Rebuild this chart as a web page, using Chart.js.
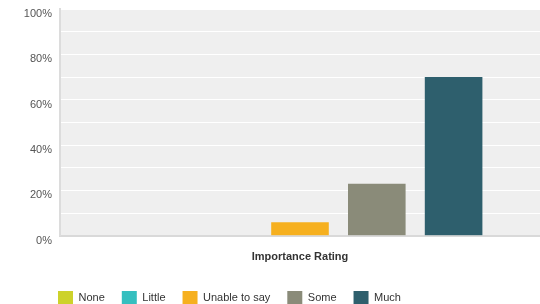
<!DOCTYPE html>
<html>
<head>
<meta charset="utf-8">
<script src="https://cdn.jsdelivr.net/npm/chart.js@4/dist/chart.umd.min.js"></script>
<style>
  html, body { margin: 0; padding: 0; background: #fff; }
  #wrap { width: 540px; height: 304px; }
</style>
</head>
<body>
<div id="wrap"><canvas id="ratingChart" width="540" height="304"></canvas></div>
<script>
// Data
const categories = ['Importance Rating'];
const seriesNames = ['None', 'Little', 'Unable to say', 'Some', 'Much'];
const seriesValues = [[0], [0], [6], [23], [70]];
const seriesColors = ['#cdd22b', '#35bfbf', '#f6b01f', '#8a8b79', '#2e5f6d'];
const yTicks = [0, 20, 40, 60, 80, 100];

// grey plot background + legend placement
const plotBg = {
  id: 'plotBg',
  beforeDraw(chart) {
    const { ctx, chartArea: a } = chart;
    ctx.save();
    ctx.fillStyle = '#efefef';
    ctx.fillRect(a.left, a.top, a.right - a.left, a.bottom - a.top);
    ctx.restore();
  },
  afterLayout(chart) {
    chart.legend.left = 41;
    chart.legend.top -= 5;
  }
};

const ctx = document.getElementById('ratingChart').getContext('2d');
const ratingChart = new Chart(ctx, {
  type: 'bar',
  data: {
    labels: categories,
    datasets: seriesNames.map((name, i) => ({
      label: name,
      data: seriesValues[i],
      backgroundColor: seriesColors[i],
      borderWidth: 0,
      categoryPercentage: 0.8,
      barPercentage: 0.75,
    })),
  },
  options: {
    responsive: false,
    animation: false,
    layout: { padding: { top: 9, right: 0, bottom: -15, left: 0 } },
    scales: {
      x: {
        grid: { display: false, drawTicks: false },
        border: { display: true, color: '#d9d9d9', width: 2 },
        ticks: {
          padding: 15,
          color: '#333',
          font: { family: 'Liberation Sans', size: 11, weight: 'bold' },
        },
      },
      y: {
        min: 0,
        max: 100,
        afterFit(scale) {
          scale.width = 60;
          scale.paddingTop = 0;
        },
        grid: { color: '#ffffff', lineWidth: 1, drawTicks: false },
        border: { display: true, color: '#dcdcdc', width: 2 },
        ticks: {
          stepSize: 10,
          padding: 8,
          labelOffset: 5,
          color: '#555',
          font: { family: 'Liberation Sans', size: 11 },
          callback: (v) => (yTicks.includes(v) ? v + '%' : ''),
        },
      },
    },
    plugins: {
      legend: {
        position: 'bottom',
        align: 'start',
        labels: {
          boxWidth: 15,
          boxHeight: 13,
          padding: 17,
          color: '#333',
          font: { family: 'Liberation Sans', size: 11 },
        },
      },
      tooltip: { enabled: false },
    },
  },
  plugins: [plotBg],
});
</script>
</body>
</html>
